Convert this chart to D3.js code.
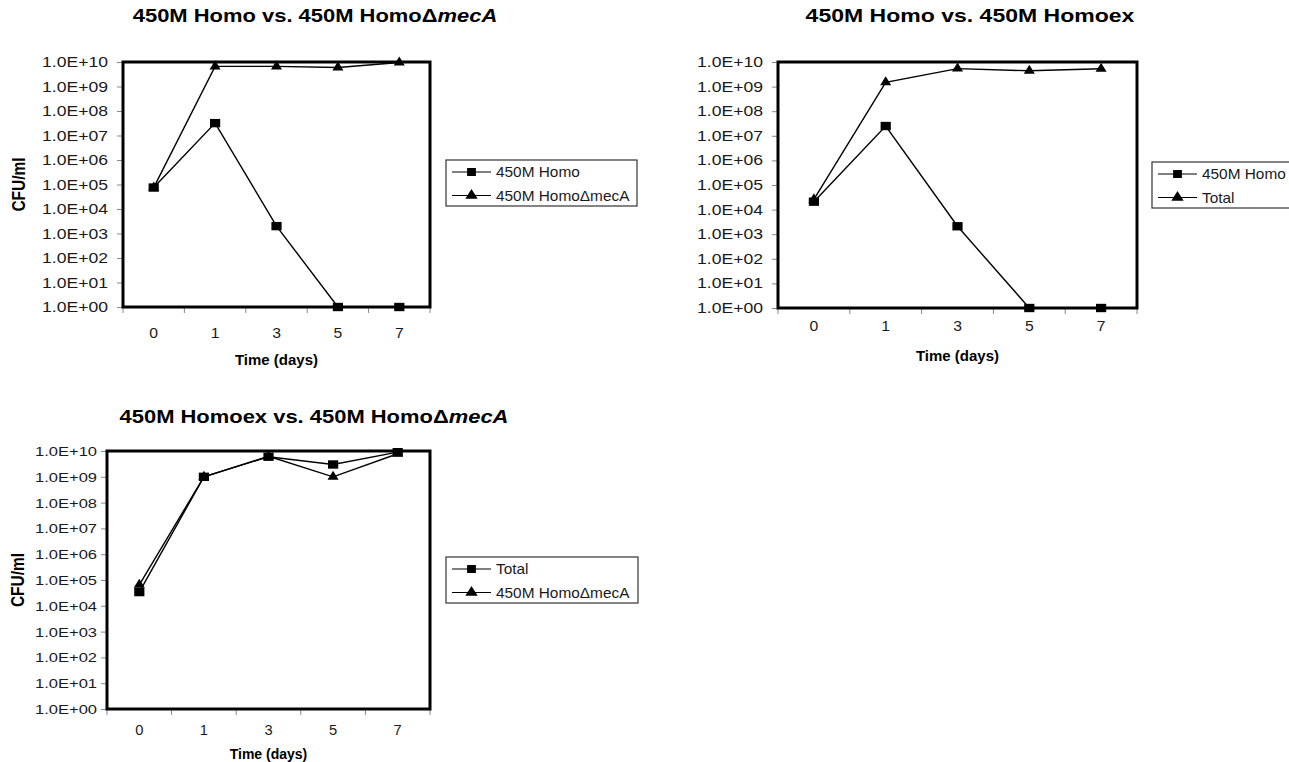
<!DOCTYPE html>
<html>
<head>
<meta charset="utf-8">
<script src="https://cdn.jsdelivr.net/npm/d3@7"></script>
<style>
  body { margin: 0; background: #fff; }
  svg { font-family: "Liberation Sans", Arial, sans-serif; }
</style>
</head>
<body>
<script>
// chart values
var days = ["0", "1", "3", "5", "7"];
var decades = [1, 1e1, 1e2, 1e3, 1e4, 1e5, 1e6, 1e7, 1e8, 1e9, 1e10];

var p1Homo = [7.5e4, 3.2e7, 2e3, 1, 1];
var p1HomoDmecA = [7.5e4, 6.6e9, 6.6e9, 6e9, 9.5e9];

var p2Homo = [2.1e4, 2.5e7, 2.1e3, 1, 1];
var p2Total = [2.6e4, 1.5e9, 5.4e9, 4.4e9, 5.3e9];

var p3Total = [3.4e4, 1e9, 6e9, 3e9, 9e9];
var p3HomoDmecA = [6.5e4, 1e9, 6.2e9, 1e9, 7.8e9];

var svg = d3.select("body").append("svg")
    .attr("width", 1289)
    .attr("height", 762);

// the original figure is a bit wider than tall, so text gets a horizontal stretch
function txt(g, x, y, s, fs, sx, anchor, bold) {
    return g.append("text")
        .attr("transform", "translate(" + x + "," + y + ") scale(" + sx + ",1)")
        .attr("text-anchor", anchor || "start")
        .attr("font-size", fs)
        .attr("font-weight", bold ? "bold" : "normal")
        .attr("fill", bold ? "#000" : "#1a1a1a")
        .text(s);
}

function tickFmt(v) {
    var e = Math.round(Math.log10(v));
    return "1.0E+" + (e < 10 ? "0" + e : e);
}

function panel(o) {
    var g = svg.append("g");

    var x = d3.scaleBand().domain(days).range([o.x, o.x + o.w]);
    var y = d3.scaleLog().domain([1, 1e10]).range([o.y + o.h, o.y]);
    var cx = function(i) { return x(days[i]) + x.bandwidth() / 2; };

    // title
    var t = txt(g, o.tx, o.ty, null, 18, o.tsx, "middle", true);
    t.append("tspan").text(o.title);
    if (o.titleItalic) t.append("tspan").attr("font-style", "italic").text(o.titleItalic);

    // y axis ticks + labels
    var ya = d3.axisLeft(y).tickValues(decades).tickFormat("").tickSize(6);
    var yg = g.append("g").attr("transform", "translate(" + o.x + ",0)").call(ya);
    yg.select(".domain").remove();
    yg.selectAll(".tick line").attr("stroke", "#888");
    g.selectAll(".yl").data(decades).enter().append("text")
        .attr("x", o.x - o.lgap - o.lw2)
        .attr("y", function(d) { return y(d) + 5; })
        .attr("font-size", o.yfs)
        .attr("fill", "#1a1a1a")
        .attr("textLength", o.lw2)
        .attr("lengthAdjust", "spacingAndGlyphs")
        .text(tickFmt);

    // x axis: ticks at band edges, labels at centres
    var edges = days.map(function(d) { return x(d); }).concat([o.x + o.w]);
    g.selectAll(".xt").data(edges).enter().append("line")
        .attr("x1", function(d) { return d; }).attr("x2", function(d) { return d; })
        .attr("y1", o.y + o.h).attr("y2", o.y + o.h + 6)
        .attr("stroke", "#888");
    days.forEach(function(d, i) {
        txt(g, cx(i), o.y + o.h + o.xoff, d, o.xfs, 1.05, "middle", false);
    });

    txt(g, o.x + o.w / 2, o.y + o.h + o.toff, "Time (days)", o.xfs, 1, "middle", true);

    if (o.ylab) {
        g.append("text")
            .attr("transform", "translate(" + o.ylabX + "," + (o.y + o.h / 2) + ") rotate(-90) scale(1,1.15)")
            .attr("text-anchor", "middle")
            .attr("font-size", 15.5).attr("font-weight", "bold")
            .text("CFU/ml");
    }

    // frame
    g.append("rect")
        .attr("x", o.x).attr("y", o.y).attr("width", o.w).attr("height", o.h)
        .attr("fill", "none").attr("stroke", "#000").attr("stroke-width", 3);

    var line = d3.line()
        .x(function(d, i) { return cx(i); })
        .y(function(d) { return y(d); });

    var shapes = [d3.symbolSquare, d3.symbolTriangle];
    var sizes = [70, 48];
    var stretch = [1.22, 1.05];

    o.series.forEach(function(s, k) {
        g.append("path").datum(s)
            .attr("d", line)
            .attr("fill", "none").attr("stroke", "#000").attr("stroke-width", 1.4);
        g.selectAll(".m" + k).data(s).enter().append("path")
            .attr("transform", function(d, i) {
                return "translate(" + cx(i) + "," + y(d) + ") scale(" + stretch[k] + ",1)";
            })
            .attr("d", d3.symbol().type(shapes[k]).size(sizes[k]))
            .attr("fill", "#000");
    });

    // legend
    var lg = g.append("g").attr("transform", "translate(" + o.lx + "," + o.ly + ")");
    lg.append("rect")
        .attr("x", 0).attr("y", 0).attr("width", o.lw).attr("height", 46)
        .attr("fill", "#fff").attr("stroke", "#333").attr("stroke-width", 1.2);
    o.names.forEach(function(n, k) {
        var yy = 12 + k * 23.5;
        lg.append("line").attr("x1", 6).attr("x2", 45).attr("y1", yy).attr("y2", yy)
            .attr("stroke", "#000").attr("stroke-width", 1.2);
        lg.append("path").attr("transform", "translate(25.5," + yy + ") scale(1.1,1)")
            .attr("d", d3.symbol().type(shapes[k]).size(k ? 55 : 64))
            .attr("fill", "#000");
        txt(lg, 50, yy + 5, n, 14, 1.1, "start", false);
    });
}

panel({
    x: 123, y: 62, w: 307, h: 245,
    title: "450M Homo vs. 450M Homo\u0394", titleItalic: "mecA", tx: 315, ty: 22, tsx: 1.22,
    ylab: true, ylabX: 25,
    yfs: 14, lgap: 15, lw2: 66, xfs: 15, xoff: 30.5, toff: 58,
    series: [p1Homo, p1HomoDmecA],
    names: ["450M Homo", "450M Homo\u0394mecA"],
    lx: 446, ly: 160, lw: 191
});

panel({
    x: 778, y: 62, w: 359, h: 246,
    title: "450M Homo vs. 450M Homoex", tx: 970, ty: 22, tsx: 1.28,
    ylab: false,
    yfs: 14, lgap: 15, lw2: 66, xfs: 15, xoff: 23, toff: 53,
    series: [p2Homo, p2Total],
    names: ["450M Homo", "Total"],
    lx: 1152, ly: 162, lw: 150
});

panel({
    x: 107, y: 451, w: 323, h: 258,
    title: "450M Homoex vs. 450M Homo\u0394", titleItalic: "mecA", tx: 314, ty: 423, tsx: 1.22,
    ylab: true, ylabX: 24,
    yfs: 13.5, lgap: 10, lw2: 62, xfs: 14, xoff: 26, toff: 50,
    series: [p3Total, p3HomoDmecA],
    names: ["Total", "450M Homo\u0394mecA"],
    lx: 446, ly: 557, lw: 192
});
</script>
</body>
</html>
